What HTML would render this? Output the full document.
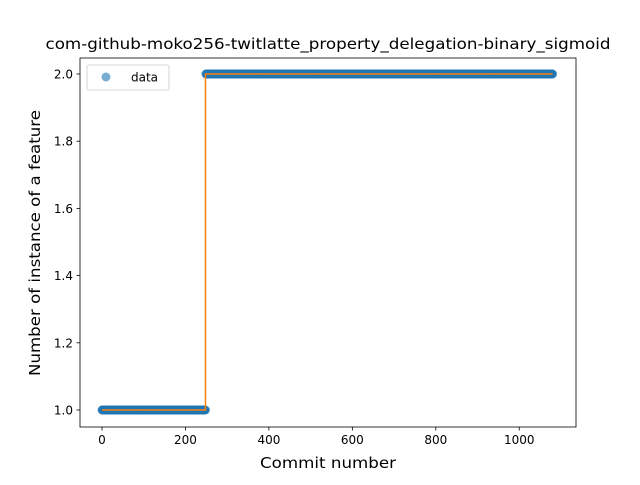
<!DOCTYPE html>
<html><head><meta charset="utf-8"><style>
body{margin:0;background:#fff;font-family:"Liberation Sans","DejaVu Sans",sans-serif;}
svg text{font-family:"DejaVu Sans","Liberation Sans",sans-serif;}
</style></head><body>
<svg id="chart" width="640" height="480" xmlns="http://www.w3.org/2000/svg">
<rect width="640" height="480" fill="#fff"/>
<text x="328" y="49" text-anchor="middle" font-size="15.5" textLength="565" lengthAdjust="spacingAndGlyphs">com-github-moko256-twitlatte_property_delegation-binary_sigmoid</text>
<g id="plot"></g>
<rect x="80" y="58" width="496" height="369" fill="none" stroke="#000" stroke-width="0.8"/>
<g id="xt"></g><g id="yt"></g>
<text x="328" y="468" text-anchor="middle" font-size="15" textLength="136" lengthAdjust="spacingAndGlyphs">Commit number</text>
<text transform="translate(40,243) rotate(-90)" text-anchor="middle" font-size="15" textLength="266" lengthAdjust="spacingAndGlyphs">Number of instance of a feature</text>
<g>
<rect x="87" y="65" width="82" height="25" rx="2" fill="#fff" stroke="#ccc" stroke-width="0.8"/>
<circle cx="106" cy="77" r="4.5" fill="#1f77b4" fill-opacity="0.6"/>
<text x="131" y="81.5" font-size="12">data</text>
</g>
</svg>
<script>
const runValues=[1,2];
const runLengths=[249,832];
const fitStepX=248;
const xTicks=[0,200,400,600,800,1000];
const yTicks=[1.0,1.2,1.4,1.6,1.8,2.0];
const NS="http://www.w3.org/2000/svg";
function sx(v){return 102+v*0.41725;}
function sy(v){return 410-(v-1)*336;}
const plot=document.getElementById('plot');
function mk(t,a,p){const e=document.createElementNS(NS,t);for(const k in a)e.setAttribute(k,a[k]);(p||plot).appendChild(e);return e;}
let idx=0;const pts=[];
runValues.forEach((v,r)=>{for(let i=0;i<runLengths[r];i++){pts.push([idx,v]);idx++;}});
const pg=mk('g',{});


pts.forEach(p=>{const c=mk('circle',{cx:sx(p[0]),cy:sy(p[1]),r:4.5,fill:'#1f77b4','fill-opacity':0.6},pg);

});
const last=pts.length-1;
const fit=mk('path',{d:`M${sx(0)},${sy(runValues[0])}H${sx(fitStepX)}V${sy(runValues[1])}H${sx(last)}`,fill:'none',stroke:'#ff7f0e','stroke-width':1.5});


const xt=document.getElementById('xt');
xTicks.forEach(v=>{const x=sx(v);mk('line',{x1:x,x2:x,y1:427,y2:430.5,stroke:'#000','stroke-width':0.8},xt);
const t=mk('text',{x:x,y:444,'text-anchor':'middle','font-size':12},xt);t.textContent=v;

});
const yt=document.getElementById('yt');
yTicks.forEach(v=>{const y=sy(v);mk('line',{x1:76.5,x2:80,y1:y,y2:y,stroke:'#000','stroke-width':0.8},yt);
const t=mk('text',{x:73,y:y+4.5,'text-anchor':'end','font-size':12},yt);t.textContent=v.toFixed(1);

});
</script>
</body></html>
